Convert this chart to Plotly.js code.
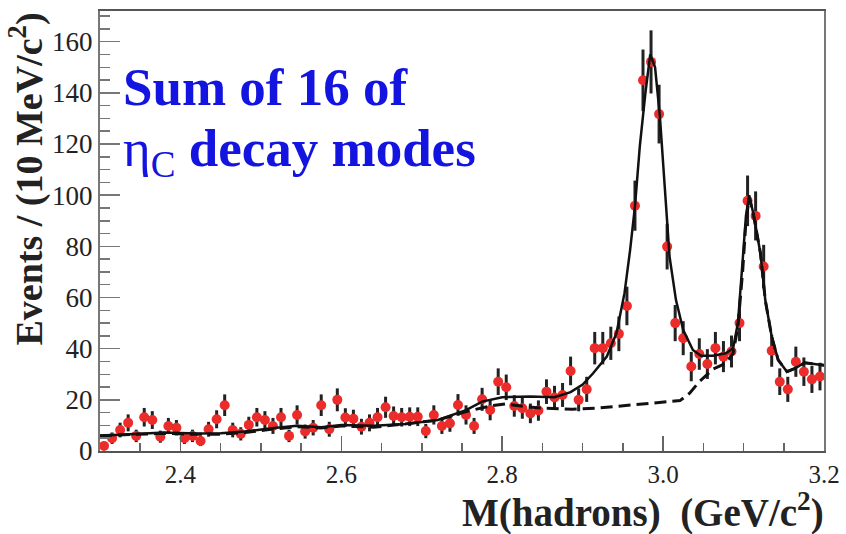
<!DOCTYPE html>
<html>
<head>
<meta charset="utf-8">
<script src="https://cdn.plot.ly/plotly-3.0.1.min.js"></script>
<style>html,body{margin:0;padding:0;background:#fff;}#chart{width:846px;height:534px;}</style>
</head>
<body>
<div id="chart"></div>
<script>
// Histogram: 10 MeV bins from 2.30 to 3.20 GeV/c^2
const binStart = 2.30;
const binWidth = 0.01;
const counts = [2,5,8.2,11,5.9,13.2,12.1,5.6,9.8,9.1,
                5,5.9,3.9,8.5,12.4,17.9,8.2,6.7,10.2,13.2,
                12.1,9.8,13.2,5.9,14.1,7.6,9.1,17.9,8.5,20,
                13.1,12.6,9.5,11,13.2,17.1,13.7,13.2,13.4,13.4,
                7.8,14.1,9.8,10.8,18,14.1,9.8,20.2,16,27.1,
                24.9,17.6,16.7,14.7,15.8,23.2,20.9,21.9,31.3,20,
                24.1,40.2,40.2,42.1,45.8,56.7,95.9,144.9,152.1,131.7,
                79.9,50,44.1,33,37.9,34,40.2,36.9,38.9,50,
                97.8,91.9,72.1,39.2,27.1,24.1,34.9,31,28,29.1];

// Total fit (solid)
const fitX = [2.300,2.340,2.380,2.420,2.450,2.480,2.510,2.545,2.575,2.600,
              2.640,2.680,2.720,2.755,2.775,2.800,2.835,2.865,2.885,2.900,
              2.913,2.930,2.942,2.952,2.959,2.965,2.971,2.978,2.984,2.990,
              2.996,3.002,3.008,3.016,3.025,3.037,3.047,3.062,3.078,3.087,
              3.093,3.098,3.103,3.107,3.112,3.121,3.127,3.135,3.143,3.154,
              3.164,3.176,3.200];
const fitTotal = [6.0,6.6,7.2,6.8,6.9,7.6,8.8,9.9,9.3,10.2,
                  9.9,10.6,12.1,16.0,19.3,21.0,21.3,21.0,23.0,26.0,
                  30.4,36.9,46.0,61.7,78.6,95.6,119,140,155,150,
                  130.8,103.4,76,59,47.3,39.5,37.2,37.2,38.2,40.2,
                  50,70.8,92,100,93,77.3,59,44.7,35.6,31,
                  32.3,34.5,33.5];

// Background + J/psi (dashed)
const bkgX = [2.300,2.340,2.380,2.420,2.450,2.480,2.510,2.545,2.575,2.600,
              2.640,2.680,2.720,2.755,2.785,2.804,2.829,2.854,2.887,2.916,
              2.939,2.980,3.021,3.033,3.045,3.062,3.078,3.087,3.093,3.099,
              3.103,3.107,3.112,3.121,3.127,3.135,3.143,3.154,3.164,3.176,
              3.200];
const bkgY = [6.0,6.4,6.9,6.5,6.6,7.2,8.4,9.5,9.0,9.8,
              9.3,10.6,12.1,15.4,17.6,18.4,17.3,16.7,16.3,16.7,
              17.3,18.4,19.7,22.6,27.1,32,34.3,38.2,48.6,70.8,
              90,99,93,77.3,59,44.7,35.6,31,32.3,34.5,
              33.5];

const xTickVals = [2.4,2.6,2.8,3.0,3.2];
const xTickText = ['2.4','2.6','2.8','3.0','3.2'];

const binCenters = counts.map((_, i) => binStart + binWidth * (i + 0.5));
const errs = counts.map(v => Math.sqrt(v));

const serif = 'Liberation Serif, Times New Roman, serif';

const traces = [
  {
    x: binCenters, y: counts, type: 'scatter', mode: 'markers',
    marker: {color: '#ec2b2b', size: 10, line: {width: 0}},
    error_y: {type: 'data', array: errs, visible: true, color: '#222', thickness: 3, width: 0},
    showlegend: false, hoverinfo: 'skip'
  },
  {
    x: bkgX, y: bkgY, type: 'scatter', mode: 'lines',
    line: {color: '#111', width: 3, dash: '12px,6px'},
    showlegend: false, hoverinfo: 'skip'
  },
  {
    x: fitX, y: fitTotal, type: 'scatter', mode: 'lines',
    line: {color: '#111', width: 2.5},
    showlegend: false, hoverinfo: 'skip'
  }
];

const layout = {
  width: 846, height: 534,
  margin: {l: 100, r: 22, t: 11, b: 83, pad: 0},
  paper_bgcolor: '#fff', plot_bgcolor: '#fff',
  font: {family: serif, color: '#222'},
  showlegend: false,
  xaxis: {
    range: [2.3, 3.2], tickmode: 'array', tickvals: xTickVals, ticktext: xTickText,
    ticks: 'inside', ticklen: 15, tickwidth: 1.5, tickcolor: '#666',
    minor: {dtick: 0.05, tick0: 2.3, ticks: 'inside', ticklen: 8, tickwidth: 1.5, tickcolor: '#666', showgrid: false},
    showline: true, linecolor: '#555', linewidth: 2, mirror: true,
    showgrid: false, zeroline: false,
    tickfont: {family: serif, size: 25, color: '#222'}
  },
  yaxis: {
    range: [0, 172], dtick: 20, tick0: 0,
    ticks: 'inside', ticklen: 20, tickwidth: 1.5, tickcolor: '#777',
    minor: {dtick: 5, tick0: 0, ticks: 'inside', ticklen: 10, tickwidth: 1.5, tickcolor: '#777', showgrid: false},
    showline: true, linecolor: '#777', linewidth: 2, mirror: true,
    showgrid: false, zeroline: false,
    tickfont: {family: serif, size: 27, color: '#222'}
  },
  annotations: [
    {
      xref: 'paper', yref: 'paper', x: 1, y: 0, xanchor: 'right', yanchor: 'top',
      yshift: -33, xshift: 2,
      text: '<b>M(hadrons)  (GeV/c<sup>2</sup>)</b>', showarrow: false,
      font: {family: serif, size: 39, color: '#222'}
    },
    {
      xref: 'paper', yref: 'paper', x: 0, y: 1, xanchor: 'center', yanchor: 'top',
      xshift: -73, yshift: 0, textangle: -90,
      text: '<b>Events / (10 MeV/c<sup>2</sup>)</b>', showarrow: false,
      font: {family: serif, size: 38, color: '#222'}
    },
    {
      xref: 'paper', yref: 'paper', x: 0, y: 1, xanchor: 'left', yanchor: 'top',
      xshift: 21, yshift: -45, align: 'left',
      text: '<b>Sum of 16 of</b>', showarrow: false,
      font: {family: serif, size: 53, color: '#1414e0'}
    },
    {
      xref: 'paper', yref: 'paper', x: 0, y: 1, xanchor: 'left', yanchor: 'top',
      xshift: 21, yshift: -106, align: 'left',
      text: 'η<sub>C</sub><b> decay modes</b>', showarrow: false,
      font: {family: serif, size: 53, color: '#1414e0'}
    }
  ]
};

Plotly.newPlot('chart', traces, layout, {displayModeBar: false, staticPlot: true});
</script>
</body>
</html>
